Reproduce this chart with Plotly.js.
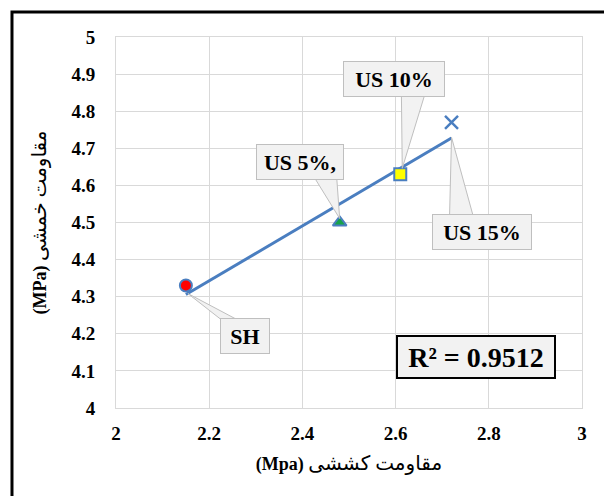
<!DOCTYPE html>
<html>
<head>
<meta charset="utf-8">
<script src="https://cdn.plot.ly/plotly-3.0.1.min.js"></script>
<style>
  html, body { margin: 0; padding: 0; background: #fff; }
  #chart { width: 604px; height: 496px; }
</style>
</head>
<body>
<div id="chart"></div>
<script>
// Tensile strength (x) vs flexural strength (y), MPa
const labels  = ['SH', 'US 5%,', 'US 10%', 'US 15%'];
const tensile = [2.15, 2.48, 2.61, 2.72];
const flexure = [4.33, 4.50, 4.63, 4.77];
const r2Text  = 'R² = 0.9512';

const xTicks = [2, 2.2, 2.4, 2.6, 2.8, 3];
const yTicks = [4, 4.1, 4.2, 4.3, 4.4, 4.5, 4.6, 4.7, 4.8, 4.9, 5];

const xTitleFa = 'مقاومت کششی';
const xTitleUnit = '(Mpa)';
const yTitleFa = 'مقاومت خمشی';
const yTitleUnit = '(MPa)';

const BLUE = '#4a7ec0';
const SERIF = '"Liberation Serif", "Times New Roman", serif';
const TITLE_FONT = '"Liberation Serif", "DejaVu Sans", serif';

// Marker look per point
const markerStyles = [
  { symbol: 'circle',        color: '#ff0000', size: 12, line: { color: BLUE, width: 2 } },
  { symbol: 'triangle-up',   color: '#17a34a', size: 12, line: { color: BLUE, width: 2 } },
  { symbol: 'square',        color: '#ffff00', size: 12, line: { color: BLUE, width: 2 } },
  { symbol: 'x-thin-open',   color: BLUE,      size: 13, line: { color: BLUE, width: 2.5 } }
];

// Least-squares linear trendline through the points
function linearFit(xs, ys) {
  const n = xs.length;
  const mx = xs.reduce((a, b) => a + b, 0) / n;
  const my = ys.reduce((a, b) => a + b, 0) / n;
  let sxy = 0, sxx = 0;
  for (let i = 0; i < n; i++) {
    sxy += (xs[i] - mx) * (ys[i] - my);
    sxx += (xs[i] - mx) * (xs[i] - mx);
  }
  const slope = sxy / sxx;
  return { slope: slope, intercept: my - slope * mx };
}
const fit = linearFit(tensile, flexure);
const xMin = Math.min.apply(null, tensile);
const xMax = Math.max.apply(null, tensile);

const traces = [
  {
    type: 'scatter', mode: 'lines',
    x: [xMin, xMax],
    y: [fit.intercept + fit.slope * xMin, fit.intercept + fit.slope * xMax],
    line: { color: BLUE, width: 3 },
    hoverinfo: 'skip', showlegend: false
  }
];
labels.forEach(function (name, i) {
  const m = markerStyles[i];
  traces.push({
    type: 'scatter', mode: 'markers', name: name,
    x: [tensile[i]], y: [flexure[i]],
    marker: { symbol: m.symbol, color: m.color, size: m.size, line: m.line },
    showlegend: false
  });
});

// Callout boxes: pixel offset of box centre from the point, box size, tail tip offset
const callouts = [
  { dx: 59,  dy: 50,  w: 50,  h: 36, tip: [2, 8] },
  { dx: -40, dy: -61, w: 88,  h: 36, tip: [0, -4] },
  { dx: -6,  dy: -95, w: 102, h: 36, tip: [2, -6] },
  { dx: 30,  dy: 110, w: 100, h: 36, tip: [0, 15] }
];
// Tail base anchor on the box edge (fraction across the box width, 0 = left)
const tailBase = [[0.05, 0.38], [0.66, 0.92], [0.57, 0.8], [0.18, 0.42]];

const shapes = [];
const annotations = [];
callouts.forEach(function (c, i) {
  const left = c.dx - c.w / 2;
  const edgeY = c.dy > 0 ? c.dy - c.h / 2 + 3 : c.dy + c.h / 2 - 3;
  const b1 = left + tailBase[i][0] * c.w;
  const b2 = left + tailBase[i][1] * c.w;
  // pixel-sized path anchored on the data point; y is measured upwards
  shapes.push({
    type: 'path', xref: 'x', yref: 'y',
    xsizemode: 'pixel', ysizemode: 'pixel',
    xanchor: tensile[i], yanchor: flexure[i],
    path: 'M' + c.tip[0] + ',' + (-c.tip[1]) +
          ' L' + b1 + ',' + (-edgeY) +
          ' L' + b2 + ',' + (-edgeY) + ' Z',
    fillcolor: '#f2f2f2',
    line: { color: '#bfbfbf', width: 1 },
    layer: 'above'
  });
  annotations.push({
    x: tensile[i], y: flexure[i], xref: 'x', yref: 'y',
    text: '<b>' + labels[i] + '</b>',
    showarrow: true, arrowcolor: 'rgba(0,0,0,0)', arrowwidth: 0.1,
    ax: c.dx, ay: c.dy, axref: 'pixel', ayref: 'pixel',
    width: c.w - 2, height: c.h - 2,
    bgcolor: '#f2f2f2', bordercolor: '#bfbfbf', borderwidth: 1, borderpad: 0,
    font: { family: SERIF, size: 22, color: '#000' }
  });
});

// R² box
annotations.push({
  xref: 'paper', yref: 'paper', x: 0.7725, y: 0.1375,
  xanchor: 'center', yanchor: 'middle',
  text: '<b>' + r2Text + '</b>', showarrow: false,
  width: 156, height: 40,
  bgcolor: '#f2f2f2', bordercolor: '#000', borderwidth: 2, borderpad: 0,
  font: { family: SERIF, size: 28, color: '#000' }
});

// Frame around the chart (left and top edges visible)
shapes.push({
  type: 'rect', xref: 'paper', yref: 'paper',
  x0: -0.2232, x1: 1.3, y0: -0.4, y1: 1.0674,
  line: { color: '#000', width: 3 }, fillcolor: 'rgba(0,0,0,0)', layer: 'above'
});

// Unit in bold serif on the left, Persian words to its right
function axisTitle(unit, fa) {
  return '<b>' + unit + '</b> <span style="font-size:20px">' + fa + '</span>';
}

const axisCommon = {
  showgrid: true, gridcolor: '#d9d9d9', gridwidth: 1,
  showline: true, linecolor: '#d9d9d9', linewidth: 1, mirror: true,
  zeroline: false, ticks: '',
  tickfont: { family: SERIF, size: 19, color: '#000', weight: 'bold' }
};

const layout = {
  width: 604, height: 496,
  margin: { l: 116, r: 22, t: 37, b: 88 },
  paper_bgcolor: '#fff', plot_bgcolor: '#fff',
  showlegend: false,
  xaxis: Object.assign({}, axisCommon, {
    range: [2, 3], tickvals: xTicks, ticktext: xTicks.map(String),
    ticklabelstandoff: 8,
    title: { text: axisTitle(xTitleUnit, xTitleFa), font: { family: TITLE_FONT, size: 18, color: '#000' }, standoff: 14 }
  }),
  yaxis: Object.assign({}, axisCommon, {
    range: [4, 5], tickvals: yTicks, ticktext: yTicks.map(String),
    ticklabelstandoff: 16,
    title: { text: axisTitle(yTitleUnit, yTitleFa), font: { family: TITLE_FONT, size: 18, color: '#000' }, standoff: 20 }
  }),
  shapes: shapes,
  annotations: annotations
};

Plotly.newPlot('chart', traces, layout, { displayModeBar: false, staticPlot: true });
</script>
</body>
</html>
